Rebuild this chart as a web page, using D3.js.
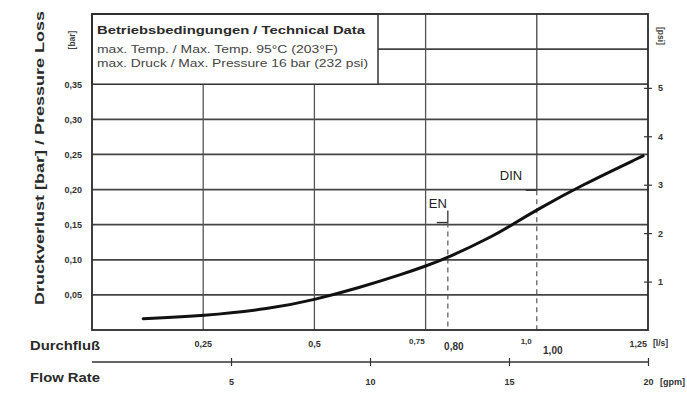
<!DOCTYPE html>
<html><head><meta charset="utf-8">
<script src="https://cdn.jsdelivr.net/npm/d3@7"></script>
<style>
html,body{margin:0;padding:0;background:#fff;}
svg{display:block;font-family:"Liberation Sans",Arial,sans-serif;}
</style></head>
<body><svg id="c" width="687" height="393"></svg>
<script>
// ---- data ----
const flowLs   = [0.115,0.25,0.40,0.50,0.60,0.70,0.75,0.80,0.90,0.947,1.00,1.10,1.239];
const lossBar  = [0.016,0.020,0.030,0.043,0.060,0.080,0.091,0.103,0.133,0.151,0.171,0.206,0.248];
const barTicks = [0.05,0.10,0.15,0.20,0.25,0.30,0.35];
const barTickLabels = ["0,05","0,10","0,15","0,20","0,25","0,30","0,35"];
const barGrid  = [0.05,0.10,0.15,0.20,0.25,0.30,0.35,0.40];
const psiTicks = [1,2,3,4,5];
const lsGrid   = [0.25,0.5,0.75];
const lsTicks  = [0.25,0.5,1.25];
const lsTickLabels = ["0,25","0,5","1,25"];
const gpmTicks = [5,10,15,20];
const gpmTickLabels = ["5","10","15","20"];
const markNames = ["EN","DIN"];
const markFlow  = [0.80,1.00];
const markLevel = [0.153,0.199];
const markFlowLabels = ["0,80","1,00"];
const markGridLabels = ["0,75","1,0"];
const boxLines = ["Betriebsbedingungen / Technical Data",
                  "max. Temp. / Max. Temp. 95°C (203°F)",
                  "max. Druck / Max. Pressure 16 bar (232 psi)"];

const svg = d3.select("#c");
const L=92,R=648,T=14,B=330;
const x = d3.scaleLinear().domain([0,1.25]).range([L,R]);
const y = d3.scaleLinear().domain([0,0.45]).range([B,T]);
const yPsi = d3.scaleLinear().domain([0,0.45*14.5]).range([B,T]);
const xg = d3.scaleLinear().domain([0,20]).range([L,R]);

// horizontal grid
svg.append("g").selectAll("line").data(barGrid).join("line")
  .attr("x1",L).attr("x2",R).attr("y1",d=>y(d)).attr("y2",d=>y(d))
  .attr("stroke","#444").attr("stroke-width",1.7);
// vertical grid
svg.append("g").selectAll("line").data(lsGrid).join("line")
  .attr("x1",d=>x(d)).attr("x2",d=>x(d)).attr("y1",T).attr("y2",B)
  .attr("stroke","#555").attr("stroke-width",1.3);
// DIN line solid above mark (gridline 1.0)
svg.append("line").attr("x1",x(markFlow[1])).attr("x2",x(markFlow[1]))
  .attr("y1",T).attr("y2",y(markLevel[1])).attr("stroke","#444").attr("stroke-width",1.3);
// EN short solid tick above mark
svg.append("line").attr("x1",x(markFlow[0])).attr("x2",x(markFlow[0]))
  .attr("y1",y(markLevel[0])-12).attr("y2",y(markLevel[0])).attr("stroke","#333").attr("stroke-width",1.3);
// dashed verticals + horizontal mark ticks
markFlow.forEach((f,i)=>{
  svg.append("line").attr("x1",x(f)).attr("x2",x(f)).attr("y1",y(markLevel[i])).attr("y2",B)
    .attr("stroke","#555").attr("stroke-width",1.2).attr("stroke-dasharray","5,4");
  svg.append("line").attr("x1",x(f)-11).attr("x2",x(f)).attr("y1",y(markLevel[i])).attr("y2",y(markLevel[i]))
    .attr("stroke","#333").attr("stroke-width",1.4);
});

// info box
const boxR = 378, boxB = y(0.35);
svg.append("rect").attr("x",L).attr("y",T).attr("width",boxR-L).attr("height",boxB-T)
  .attr("fill","#fff").attr("stroke","#333").attr("stroke-width",1.5);
svg.append("text").attr("x",97).attr("y",34).text(boxLines[0])
  .attr("font-size",11.5).attr("font-weight","bold").attr("fill","#2a2a2a")
  .attr("textLength",268).attr("lengthAdjust","spacingAndGlyphs");
svg.append("text").attr("x",97).attr("y",53).text(boxLines[1])
  .attr("font-size",10.5).attr("fill","#444").attr("textLength",241).attr("lengthAdjust","spacingAndGlyphs");
svg.append("text").attr("x",97).attr("y",67).text(boxLines[2])
  .attr("font-size",10.5).attr("fill","#444").attr("textLength",271).attr("lengthAdjust","spacingAndGlyphs");

// frame
svg.append("rect").attr("x",L).attr("y",T).attr("width",R-L).attr("height",B-T)
  .attr("fill","none").attr("stroke","#2a2a2a").attr("stroke-width",1.8);

// curve
const pts = flowLs.map((f,i)=>[f,lossBar[i]]);
svg.append("path").datum(pts)
  .attr("d",d3.line().x(d=>x(d[0])).y(d=>y(d[1])).curve(d3.curveBasis))
  .attr("fill","none").attr("stroke","#111").attr("stroke-width",3).attr("stroke-linecap","round");

// left tick labels
svg.append("g").selectAll("text").data(barTicks).join("text")
  .attr("x",82).attr("y",d=>y(d)+3.5).attr("text-anchor","end")
  .attr("font-size",9).attr("font-weight","bold").attr("fill","#333")
  .text((d,i)=>barTickLabels[i]);
// right psi axis
const ax = svg.append("g").attr("transform",`translate(${R},0)`)
  .call(d3.axisRight(yPsi).tickValues(psiTicks).tickSize(4).tickFormat(d=>d));
ax.select(".domain").remove();
ax.selectAll(".tick line").attr("x1",-4).attr("stroke","#333").attr("stroke-width",1.2);
ax.selectAll(".tick text").attr("x",10).attr("font-size",9).attr("font-weight","bold")
  .attr("fill","#333").attr("font-family","Liberation Sans, Arial, sans-serif");

// unit labels
svg.append("text").attr("transform","translate(75,40) rotate(-90)").attr("text-anchor","middle")
  .attr("font-size",8.5).attr("font-weight","bold").attr("fill","#444").text("[bar]");
svg.append("text").attr("transform","translate(658,36) rotate(90)").attr("text-anchor","middle")
  .attr("font-size",8.5).attr("font-weight","bold").attr("fill","#444").text("[psi]");
// y title
svg.append("text").attr("transform","translate(44,158) rotate(-90)").attr("text-anchor","middle")
  .attr("font-size",12.5).attr("font-weight","bold").attr("fill","#2a2a2a")
  .attr("textLength",294).attr("lengthAdjust","spacingAndGlyphs")
  .text("Druckverlust [bar] / Pressure Loss");

// EN / DIN labels
svg.append("text").attr("x",x(markFlow[0])-19).attr("y",208).attr("font-size",13).attr("fill","#222").text(markNames[0]);
svg.append("text").attr("x",x(markFlow[1])-37).attr("y",180).attr("font-size",13).attr("fill","#222").text(markNames[1]);

// bottom l/s labels
svg.append("g").selectAll("text").data(lsTicks).join("text")
  .attr("x",(d,i)=> i===2 ? x(d)-1 : x(d)).attr("y",347)
  .attr("text-anchor",(d,i)=> i===2 ? "end" : "middle")
  .attr("font-size",9).attr("font-weight","bold").attr("fill","#333")
  .text((d,i)=>lsTickLabels[i]);
svg.append("text").attr("x",x(0.75)-1).attr("y",344).attr("text-anchor","end")
  .attr("font-size",8).attr("font-weight","bold").attr("fill","#333").text(markGridLabels[0]);
svg.append("text").attr("x",x(1.0)-5).attr("y",344).attr("text-anchor","end")
  .attr("font-size",8).attr("font-weight","bold").attr("fill","#333").text(markGridLabels[1]);
svg.append("text").attr("x",x(markFlow[0])+6).attr("y",350).attr("text-anchor","middle")
  .attr("font-size",10).attr("font-weight","bold").attr("fill","#333").text(markFlowLabels[0]);
svg.append("text").attr("x",x(markFlow[1])+16).attr("y",354).attr("text-anchor","middle")
  .attr("font-size",10).attr("font-weight","bold").attr("fill","#333").text(markFlowLabels[1]);
svg.append("text").attr("x",653).attr("y",346).attr("font-size",8.5).attr("font-weight","bold")
  .attr("fill","#333").text("[l/s]");

// gpm axis
const gax = svg.append("g").attr("transform","translate(0,362)")
  .call(d3.axisBottom(xg).tickValues(gpmTicks).tickSize(4).tickFormat((d,i)=>gpmTickLabels[i]));
gax.select(".domain").attr("d",`M${L},0H${R}`).attr("stroke","#333").attr("stroke-width",1.5);
gax.selectAll(".tick line").attr("y1",-4).attr("y2",4).attr("stroke","#333").attr("stroke-width",1.2);
gax.selectAll(".tick text").attr("y",23).attr("dy",0).attr("font-size",9).attr("font-weight","bold")
  .attr("fill","#333").attr("font-family","Liberation Sans, Arial, sans-serif");
gax.selectAll(".tick").filter(d=>d===20).select("text").attr("text-anchor","end").attr("x",5);
svg.append("text").attr("x",660).attr("y",385).attr("font-size",9).attr("font-weight","bold")
  .attr("fill","#333").text("[gpm]");

// axis titles
svg.append("text").attr("x",30).attr("y",350).attr("font-size",12).attr("font-weight","bold")
  .attr("fill","#2a2a2a").attr("textLength",70).attr("lengthAdjust","spacingAndGlyphs").text("Durchfluß");
svg.append("text").attr("x",30).attr("y",382).attr("font-size",12).attr("font-weight","bold")
  .attr("fill","#2a2a2a").attr("textLength",70).attr("lengthAdjust","spacingAndGlyphs").text("Flow Rate");
</script></body></html>
